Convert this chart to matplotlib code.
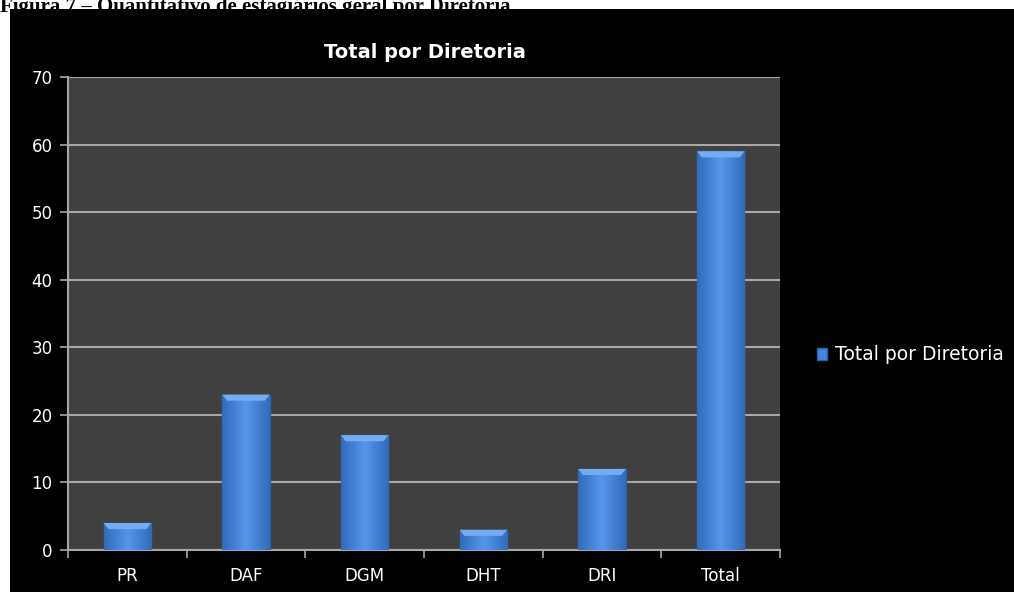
import numpy as np
import matplotlib
matplotlib.use("Agg")
import matplotlib.pyplot as plt
from matplotlib.patches import Rectangle

categorias = ["PR", "DAF", "DGM", "DHT", "DRI", "Total"]
valores = [4, 23, 17, 3, 12, 59]
titulo = "Total por Diretoria"
legenda = "Total por Diretoria"
legenda_figura = "Figura 7 – Quantitativo de estagiários geral por Diretoria"

fig = plt.figure(figsize=(10.14, 5.92), dpi=100)
fig.patch.set_facecolor("white")

# legenda da figura (cortada pelo print)
fig.text(0.0, 1 - 12 / 592, legenda_figura, family="Liberation Serif", fontweight="bold",
         fontsize=15, color="black", va="baseline", ha="left", zorder=0)
# fundo preto do print do Excel
fundo = Rectangle((10 / 1014, 0), 1 - 10 / 1014, 1 - 9 / 592, transform=fig.transFigure,
                  facecolor="black", edgecolor="none", zorder=1)
fig.patches.append(fundo)

ax = fig.add_axes([68 / 1014, 42 / 592, (780 - 68) / 1014, (550 - 77) / 592])
ax.set_zorder(2)
ax.set_facecolor("#404040")

x = np.arange(len(categorias))
largura = 0.4
barras = ax.bar(x, valores, width=largura, color="#4487dc", edgecolor="#2c60a8",
                linewidth=1.0, zorder=3, label=legenda)

# gradiente horizontal em cada barra
grad = np.linspace(0, 1, 64)
perfil = 1 - 0.45 * np.abs(grad - 0.5) * 2
cmap = matplotlib.colors.LinearSegmentedColormap.from_list("b", ["#2f66b4", "#5596ec"])
for b in barras:
    x0, w, h = b.get_x(), b.get_width(), b.get_height()
    im = ax.imshow(perfil[np.newaxis, :], extent=[x0, x0 + w, 0, h], aspect="auto",
                   cmap=cmap, vmin=0.5, vmax=1, zorder=3.5)
    im.set_clip_path(b)
    topo = min(0.9, h * 0.3)
    ax.fill([x0, x0 + w, x0 + w - 0.04, x0 + 0.04], [h, h, h - topo, h - topo],
            color="#74acf2", zorder=3.6, linewidth=0)

ax.set_xlim(-0.5, len(categorias) - 0.5)
ax.set_ylim(0, 70)
ax.set_yticks(range(0, 71, 10))
ax.yaxis.grid(True, color="#a8a8a8", linewidth=1.5, zorder=1)
ax.set_axisbelow(True)

ax.set_xticks(np.arange(-0.5, len(categorias), 1), minor=False)
ax.set_xticklabels([])
ax.set_xticks(x, minor=True)
ax.set_xticklabels(categorias, minor=True)
ax.tick_params(axis="x", which="major", length=6, color="#a8a8a8", width=1.2, direction="out")
ax.tick_params(axis="x", which="minor", length=0, labelsize=12, labelcolor="white", pad=12)
ax.tick_params(axis="y", length=6, color="#a8a8a8", width=1.2, labelsize=12,
               labelcolor="white", pad=5)

for lado in ["top", "right"]:
    ax.spines[lado].set_visible(False)
for lado in ["left", "bottom"]:
    ax.spines[lado].set_color("#a8a8a8")
    ax.spines[lado].set_linewidth(1.5)

fig.text(425 / 1014, 1 - 52 / 592, titulo, color="white", fontsize=14, fontweight="bold",
         ha="center", va="center", zorder=3)

leg = fig.legend(handles=[barras], labels=[legenda], loc="center left",
                 bbox_to_anchor=(800 / 1014, 1 - 355 / 592), frameon=False,
                 fontsize=13.5, labelcolor="white", handlelength=0.55, handleheight=0.55,
                 handletextpad=0.4)
leg.set_zorder(3)

fig.savefig("out.png", dpi=100, facecolor=fig.get_facecolor())
